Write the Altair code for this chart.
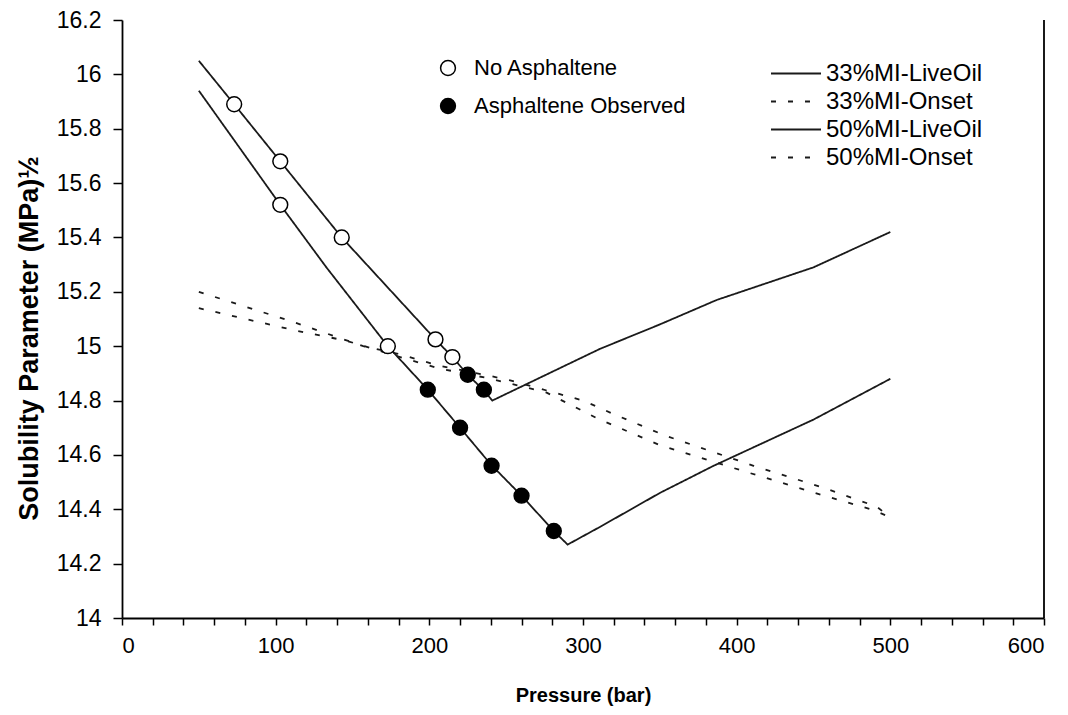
import altair as alt
import pandas as pd

# ---- data ----
series_names = ["33%MI-LiveOil", "33%MI-Onset", "50%MI-LiveOil", "50%MI-Onset"]

live33_p = [50, 73, 103, 143, 204, 215, 225, 235, 241, 311, 350, 387, 450, 500]
live33_s = [16.05, 15.89, 15.68, 15.40, 15.025, 14.96, 14.895, 14.84, 14.80, 14.99, 15.08, 15.17, 15.29, 15.42]

onset33_p = [50, 111, 157, 181, 205, 240, 252, 300, 320, 354, 411, 456, 491, 500]
onset33_s = [15.20, 15.09, 15.00, 14.97, 14.93, 14.89, 14.875, 14.80, 14.75, 14.67, 14.56, 14.48, 14.41, 14.37]

live50_p = [50, 103, 133, 173, 199, 220, 240, 260, 281, 290, 311, 350, 385, 450, 500]
live50_s = [15.94, 15.52, 15.29, 15.00, 14.84, 14.70, 14.565, 14.45, 14.32, 14.27, 14.335, 14.46, 14.56, 14.73, 14.88]

onset50_p = [50, 111, 146, 181, 205, 240, 276, 309, 350, 407, 454, 489, 500]
onset50_s = [15.14, 15.06, 15.02, 14.96, 14.92, 14.88, 14.83, 14.735, 14.636, 14.536, 14.455, 14.397, 14.37]

status_names = ["No Asphaltene", "Asphaltene Observed"]
no_asph_p = [73, 103, 103, 143, 173, 204, 215]
no_asph_s = [15.89, 15.68, 15.52, 15.40, 15.00, 15.025, 14.96]
obs_p = [199, 220, 225, 235.5, 240.5, 260, 281]
obs_s = [14.84, 14.70, 14.895, 14.84, 14.56, 14.45, 14.32]

x_ticks = list(range(0, 601, 20))
y_ticks = [14.0, 14.2, 14.4, 14.6, 14.8, 15.0, 15.2, 15.4, 15.6, 15.8, 16.0, 16.2]

# ---- tables ----
rows = []
for name, ps, ss in zip(series_names,
                        [live33_p, onset33_p, live50_p, onset50_p],
                        [live33_s, onset33_s, live50_s, onset50_s]):
    for i, (p, s) in enumerate(zip(ps, ss)):
        rows.append({"series": name, "p": p, "s": s, "o": i})
lines_df = pd.DataFrame(rows)

pts = [{"status": status_names[0], "p": p, "s": s} for p, s in zip(no_asph_p, no_asph_s)]
pts += [{"status": status_names[1], "p": p, "s": s} for p, s in zip(obs_p, obs_s)]
pts_df = pd.DataFrame(pts)

FONT = "Liberation Sans"

x_scale = alt.Scale(domain=[0, 600], nice=False, zero=False)
y_scale = alt.Scale(domain=[14, 16.2], nice=False, zero=False)

x_axis = alt.Axis(values=x_ticks, title="Pressure (bar)", grid=False,
                  labelExpr="datum.value % 100 == 0 ? datum.label : ''",
                  tickSize=7, tickColor="black", tickWidth=1.5,
                  domainColor="black", domainWidth=1.8,
                  labelFontSize=22, labelFont=FONT, labelColor="black", labelPadding=10,
                  titleFontSize=20, titleFont=FONT, titleFontWeight="bold", titleColor="black",
                  titlePadding=29, labelOverlap=False)
y_axis = alt.Axis(values=y_ticks, title="Solubility Parameter (MPa)½", grid=False, format="~f",
                  tickSize=9, tickColor="black", tickWidth=1.5,
                  domainColor="black", domainWidth=1.8,
                  labelFontSize=23, labelFont=FONT, labelColor="black", labelPadding=12,
                  titleFontSize=27, titleFont=FONT, titleFontWeight="bold", titleColor="black",
                  titlePadding=13, titleY=318, labelOverlap=False)

lines = alt.Chart(lines_df).mark_line(color="#1a1a1a", strokeWidth=1.8).encode(
    x=alt.X("p:Q", scale=x_scale, axis=x_axis),
    y=alt.Y("s:Q", scale=y_scale, axis=y_axis),
    order="o:Q",
    strokeDash=alt.StrokeDash(
        "series:N",
        scale=alt.Scale(domain=series_names, range=[[1, 0], [5, 12], [1, 0], [5, 12]]),
        legend=alt.Legend(title=None, orient="none", legendX=648, legendY=43,
                          symbolType="stroke", symbolSize=2500, symbolStrokeWidth=1.8,
                          symbolStrokeColor="#1a1a1a", labelFontSize=24, labelFont=FONT,
                          labelColor="black", labelOffset=4, rowPadding=3, clipHeight=21,
                          labelLimit=0),
    ),
)

points = alt.Chart(pts_df).mark_point(shape="circle", size=220, filled=True,
                                      stroke="black", strokeWidth=1.5, opacity=1).encode(
    x=alt.X("p:Q", scale=x_scale, axis=x_axis),
    y=alt.Y("s:Q", scale=y_scale, axis=y_axis),
    fill=alt.Fill(
        "status:N",
        scale=alt.Scale(domain=status_names, range=["white", "black"]),
        legend=alt.Legend(title=None, orient="none", legendX=315, legendY=37,
                          symbolType="circle", symbolSize=220, symbolStrokeColor="black",
                          symbolStrokeWidth=1.5, labelFontSize=22, labelFont=FONT,
                          labelColor="black", labelOffset=15, rowPadding=16,
                          symbolOpacity=1, labelLimit=0),
    ),
)

right_border = alt.Chart(pd.DataFrame({"p": [600]})).mark_rule(color="black", strokeWidth=1.8).encode(
    x=alt.X("p:Q", scale=x_scale, axis=x_axis),
    y=alt.datum(14, scale=y_scale, axis=y_axis),
    y2=alt.datum(16.2),
)

chart = alt.layer(lines, points, right_border).properties(
    width=922, height=598,
    padding={"left": 114, "top": 12, "right": 16, "bottom": 94},
    autosize=alt.AutoSizeParams(type="none"),
    background="white",
).configure_view(stroke=None).configure_axis(labelOverlap=False)

chart.save("out.html", embed_options={"renderer": "svg", "actions": False})
